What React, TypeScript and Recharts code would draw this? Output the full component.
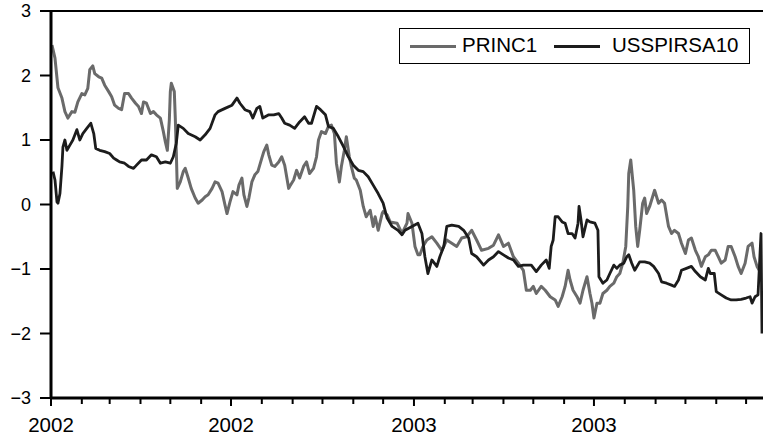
import { LineChart, Line, XAxis, YAxis, ReferenceLine } from "recharts";

// [day since 1 Jan 2002, value]
const princ1: [number, number][] = [
  [1, 2.47], [4, 2.27], [7, 1.81], [11, 1.65], [14, 1.44], [17, 1.34], [21, 1.44], [24, 1.43],
  [27, 1.59], [31, 1.72], [34, 1.7], [37, 1.8], [39, 2.09], [42, 2.15], [44, 2.03], [48, 1.98],
  [51, 1.96], [54, 1.85], [58, 1.75], [61, 1.67], [64, 1.54], [68, 1.49], [71, 1.47], [74, 1.72],
  [78, 1.72], [81, 1.65], [85, 1.57], [88, 1.52], [91, 1.41], [93, 1.59], [96, 1.57], [100, 1.41],
  [103, 1.44], [106, 1.39], [110, 1.34], [113, 1.13], [115, 0.97], [117, 0.84], [119, 1.31], [120, 1.75],
  [121, 1.88], [124, 1.75], [125, 1.34], [126, 0.82], [127, 0.25], [130, 0.35], [133, 0.51], [135, 0.56],
  [138, 0.41], [141, 0.25], [145, 0.1], [148, 0.02], [152, 0.07], [155, 0.12], [158, 0.15], [162, 0.25],
  [165, 0.35], [168, 0.33], [172, 0.2], [175, -0.01], [177, -0.14], [180, 0.04], [183, 0.2], [187, 0.15],
  [189, 0.3], [192, 0.41], [194, 0.15], [197, -0.03], [199, 0.1], [202, 0.35], [205, 0.46], [208, 0.51],
  [212, 0.72], [214, 0.82], [217, 0.92], [219, 0.77], [222, 0.61], [225, 0.59], [229, 0.66], [232, 0.74],
  [235, 0.61], [239, 0.25], [240, 0.28], [244, 0.38], [247, 0.53], [250, 0.41], [254, 0.59], [257, 0.66],
  [260, 0.48], [264, 0.56], [267, 0.74], [269, 1.0], [272, 1.13], [276, 1.1], [279, 1.21], [282, 1.23],
  [285, 1.1], [287, 0.64], [290, 0.35], [292, 0.59], [295, 0.84], [297, 1.05], [300, 0.74], [302, 0.59],
  [305, 0.41], [307, 0.38], [311, 0.22], [314, -0.03], [317, -0.19], [321, -0.09], [324, -0.34], [326, -0.19],
  [329, -0.4], [333, -0.14], [334, -0.11], [338, -0.16], [341, -0.27], [348, -0.29], [353, -0.45], [358, -0.29],
  [359, -0.14], [363, -0.29], [366, -0.65], [369, -0.78], [371, -0.78], [374, -0.65], [378, -0.55], [383, -0.5],
  [388, -0.6], [393, -0.71], [398, -0.55], [403, -0.6], [408, -0.65], [413, -0.52], [418, -0.5], [423, -0.4],
  [428, -0.55], [433, -0.71], [440, -0.68], [445, -0.63], [450, -0.47], [455, -0.65], [460, -0.6], [465, -0.81],
  [470, -0.91], [475, -1.02], [478, -1.33], [482, -1.33], [485, -1.27], [488, -1.38], [493, -1.27], [497, -1.33],
  [502, -1.43], [507, -1.48], [510, -1.58], [514, -1.43], [517, -1.27], [520, -1.02], [522, -1.17], [525, -1.33],
  [529, -1.43], [532, -1.53], [535, -1.33], [539, -1.12], [542, -1.38], [544, -1.53], [546, -1.76], [549, -1.53],
  [552, -1.53], [555, -1.38], [559, -1.33], [562, -1.27], [566, -1.22], [569, -1.12], [572, -1.07], [575, -0.91],
  [578, -0.65], [580, -0.03], [581, 0.48], [583, 0.69], [586, 0.22], [588, -0.34], [590, -0.65], [592, -0.4],
  [595, 0.02], [597, 0.1], [599, -0.14], [602, -0.03], [606, 0.17], [607, 0.22], [611, 0.02], [614, 0.07],
  [617, 0.02], [621, -0.34], [624, -0.45], [627, -0.4], [631, -0.45], [634, -0.6], [638, -0.76], [641, -0.55],
  [644, -0.52], [648, -0.71], [651, -0.81], [654, -0.96], [658, -0.81], [661, -0.78], [664, -0.71], [668, -0.71],
  [671, -0.81], [674, -0.91], [678, -0.86], [681, -0.65], [684, -0.65], [688, -0.81], [691, -0.96], [694, -1.07],
  [698, -0.91], [701, -0.65], [705, -0.6], [707, -0.81], [710, -0.96], [713, -1.04],
];

const usspirsa10: [number, number][] = [
  [2, 0.51], [4, 0.38], [6, 0.04], [7, 0.02], [9, 0.17], [11, 0.59], [12, 0.89], [14, 1.0],
  [16, 0.84], [19, 0.92], [22, 1.0], [26, 1.16], [29, 1.0], [32, 1.1], [36, 1.18], [40, 1.26],
  [43, 1.1], [45, 0.87], [49, 0.84], [54, 0.82], [59, 0.79], [63, 0.72], [66, 0.69], [69, 0.66],
  [74, 0.64], [78, 0.59], [83, 0.56], [86, 0.61], [91, 0.69], [96, 0.69], [101, 0.77], [106, 0.74],
  [110, 0.64], [115, 0.66], [120, 0.64], [123, 0.74], [126, 0.95], [128, 1.23], [133, 1.18], [138, 1.1],
  [145, 1.05], [150, 1.0], [155, 1.08], [160, 1.18], [165, 1.39], [168, 1.44], [175, 1.49], [182, 1.54],
  [187, 1.65], [190, 1.57], [195, 1.47], [200, 1.44], [203, 1.34], [207, 1.49], [210, 1.52], [213, 1.34],
  [219, 1.39], [224, 1.39], [229, 1.41], [232, 1.34], [235, 1.26], [240, 1.23], [245, 1.18], [250, 1.28],
  [255, 1.36], [259, 1.26], [262, 1.26], [267, 1.52], [271, 1.47], [276, 1.39], [279, 1.21], [284, 1.18],
  [289, 1.05], [294, 0.9], [299, 0.74], [304, 0.61], [309, 0.53], [314, 0.51], [319, 0.43], [324, 0.3],
  [329, 0.17], [334, 0.02], [338, -0.21], [343, -0.34], [349, -0.4], [353, -0.47], [356, -0.4], [363, -0.34],
  [369, -0.29], [373, -0.45], [376, -0.81], [379, -1.07], [383, -0.86], [388, -0.96], [391, -0.81], [395, -0.65],
  [398, -0.34], [403, -0.32], [410, -0.34], [415, -0.4], [420, -0.52], [423, -0.76], [428, -0.81], [435, -0.94],
  [440, -0.86], [445, -0.81], [450, -0.73], [455, -0.78], [460, -0.83], [465, -0.86], [470, -0.96], [475, -0.94],
  [480, -0.94], [483, -0.94], [488, -1.04], [493, -0.94], [498, -0.86], [501, -0.99], [503, -0.65], [505, -0.55],
  [507, -0.19], [510, -0.19], [514, -0.27], [517, -0.29], [520, -0.45], [524, -0.45], [527, -0.52], [530, -0.29],
  [531, -0.03], [533, -0.24], [535, -0.5], [539, -0.24], [542, -0.27], [547, -0.29], [550, -0.4], [551, -1.12],
  [555, -1.22], [559, -1.17], [562, -1.07], [566, -0.94], [569, -0.99], [572, -0.94], [576, -0.91], [579, -0.81],
  [581, -0.78], [584, -0.91], [587, -1.02], [592, -0.89], [597, -0.89], [602, -0.91], [606, -0.96], [611, -1.07],
  [614, -1.2], [619, -1.22], [624, -1.25], [627, -1.27], [631, -1.17], [634, -1.02], [639, -0.99], [644, -0.96],
  [648, -1.04], [653, -1.12], [658, -1.17], [661, -0.99], [663, -1.07], [667, -1.07], [669, -1.35], [674, -1.4],
  [679, -1.45], [684, -1.48], [689, -1.48], [694, -1.47], [699, -1.45], [703, -1.43], [705, -1.53], [708, -1.43],
  [711, -1.4], [714, -0.45], [715, -2.0],
];

// month starts (days since 1 Jan 2002) and the yearly labels
const monthTicks = [0, 31, 59, 90, 120, 151, 181, 212, 243, 273, 304, 334, 365, 396, 424, 455, 485, 516, 546, 577, 608, 638, 669, 699];
const yearTickDays = [0, 181, 365, 546];
const yearTickLabels = ["2002", "2002", "2003", "2003"];
const yTicks = [-3, -2, -1, 0, 1, 2, 3];

const FONT = "'Liberation Sans', Arial, Helvetica, sans-serif";
const GRAY = "#6a6a6a";
const BLACK = "#1c1c1c";

const princData = princ1.map(([day, v]) => ({ day, v }));
const ussData = usspirsa10.map(([day, v]) => ({ day, v }));

function MonthTick(props: any) {
  const { x, y, payload } = props;
  const i = yearTickDays.indexOf(payload.value);
  const major = i >= 0;
  return (
    <g>
      <line x1={x} x2={x} y1={y} y2={y + (major ? 8 : 6)} stroke="#000" strokeWidth={2} />
      {major && (
        <text x={x} y={y + 19} dy="0.71em" textAnchor="middle" fontFamily={FONT} fontSize={20.5} fill="#000">
          {yearTickLabels[i]}
        </text>
      )}
    </g>
  );
}

function LegendBox() {
  return (
    <div
      style={{
        position: "absolute",
        left: 399,
        top: 28,
        width: 349,
        height: 34,
        border: "1px solid #000",
        background: "#fff",
        fontFamily: FONT,
        fontSize: 20.5,
        color: "#000",
      }}
    >
      <div style={{ position: "absolute", left: 10, top: 16, width: 46, height: 3, background: GRAY }} />
      <span style={{ position: "absolute", left: 62, top: 4, lineHeight: "24px" }}>PRINC1</span>
      <div style={{ position: "absolute", left: 154, top: 16, width: 46, height: 3, background: BLACK }} />
      <span style={{ position: "absolute", left: 212, top: 4, lineHeight: "24px" }}>USSPIRSA10</span>
    </div>
  );
}

export default function App() {
  return (
    <div style={{ position: "absolute", left: 0, top: 0, width: 763, height: 437, background: "#fff" }}>
      <LineChart width={763} height={437} margin={{ top: 11, right: 0, bottom: 9, left: 0 }}>
        <XAxis
          dataKey="day"
          type="number"
          domain={[0, 716]}
          ticks={monthTicks}
          interval={0}
          tick={<MonthTick />}
          tickLine={false}
          tickSize={0}
          tickMargin={0}
          height={30}
          axisLine={{ stroke: "#000", strokeWidth: 3 }}
          allowDuplicatedCategory={false}
        />
        <YAxis
          type="number"
          domain={[-3, 3]}
          ticks={yTicks}
          interval={0}
          width={51}
          tickSize={11}
          tickMargin={9}
          tickLine={{ stroke: "#000", strokeWidth: 2 }}
          axisLine={{ stroke: "#000", strokeWidth: 3 }}
          tick={{ fontFamily: FONT, fontSize: 18, fill: "#000" }}
          tickFormatter={(v: number) => (v < 0 ? "\u2212" + Math.abs(v) : String(v))}
        />
        <ReferenceLine y={3} stroke="#000" strokeWidth={2} ifOverflow="visible" />
        <Line
          data={princData}
          dataKey="v"
          type="linear"
          stroke={GRAY}
          strokeWidth={3}
          dot={false}
          strokeLinejoin="round"
          isAnimationActive={false}
        />
        <Line
          data={ussData}
          dataKey="v"
          type="linear"
          stroke={BLACK}
          strokeWidth={2.8}
          dot={false}
          strokeLinejoin="round"
          isAnimationActive={false}
        />
      </LineChart>
      <LegendBox />
    </div>
  );
}
